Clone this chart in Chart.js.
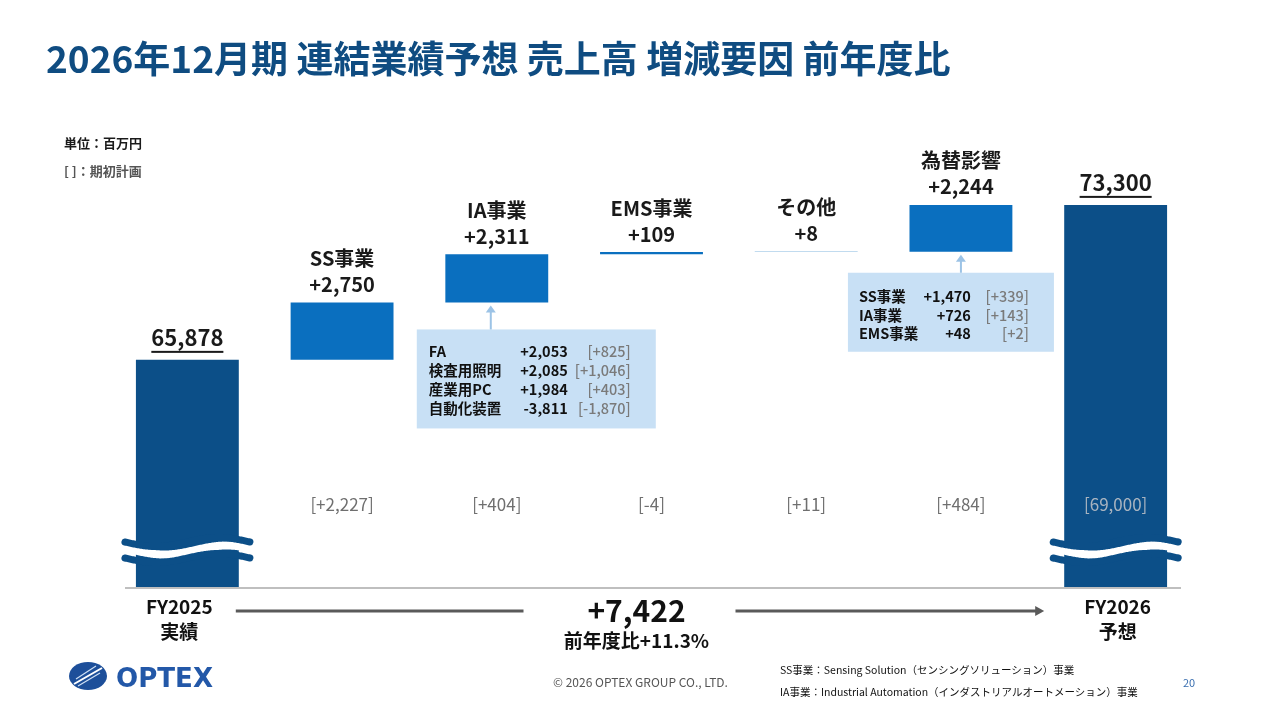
<!DOCTYPE html>
<html lang="ja">
<head>
<meta charset="utf-8">
<script src="https://cdn.jsdelivr.net/npm/chart.js@4.4.1/dist/chart.umd.min.js"></script>
<style>
  html,body{margin:0;padding:0;background:#fff;}
  body{width:1280px;height:720px;position:relative;overflow:hidden;font-family:"Noto Sans CJK JP","Noto Sans",sans-serif;}
  #wrap{position:absolute;left:0;top:0;width:1280px;height:720px;}
  .t{position:absolute;white-space:nowrap;}
  #title{left:46px;top:30px;font-size:37px;font-weight:700;color:#0f4c81;letter-spacing:0px;}
  #unit{left:64px;top:133px;font-size:13px;font-weight:700;color:#1a1a1a;}
  #plan{left:64px;top:161px;font-size:13px;font-weight:700;color:#555;}
  #copy{left:553px;top:673px;font-size:12px;color:#555;}
  #note1{left:780px;top:662px;font-size:10.5px;color:#111;}
  #note2{left:780px;top:684px;font-size:10.5px;color:#111;}
  #page{left:1183px;top:674px;font-size:11px;color:#3a6fb0;}
  #logo{position:absolute;left:66px;top:658px;}
</style>
</head>
<body>
<div id="wrap"><canvas id="c" width="1280" height="720"></canvas></div>
<div class="t" id="title">2026年12月期 連結業績予想 売上高 増減要因 前年度比</div>
<div class="t" id="unit">単位：百万円</div>
<div class="t" id="plan">[ ]：期初計画</div>
<div class="t" id="copy">© 2026 OPTEX GROUP CO., LTD.</div>
<div class="t" id="note1">SS事業：Sensing Solution（センシングソリューション）事業</div>
<div class="t" id="note2">IA事業：Industrial Automation（インダストリアルオートメーション）事業</div>
<div class="t" id="page">20</div>
<svg id="logo" width="160" height="40" viewBox="0 0 160 40">
  <ellipse cx="22" cy="18" rx="19" ry="14" fill="#1d4f9a"/>
  <path d="M8 26 L36 10" stroke="#fff" stroke-width="2"/>
  <path d="M12 28 L34 15" stroke="#cfe0f5" stroke-width="1.2"/>
  <path d="M10 21 L30 8" stroke="#cfe0f5" stroke-width="1.2"/>
  <text x="50" y="29" font-family="DejaVu Sans" font-weight="700" font-size="26" fill="#2358a8" textLength="97" lengthAdjust="spacingAndGlyphs">OPTEX</text>
</svg>
<script>
// ---------- data ----------
const categories = ['FY2025 実績', 'SS事業', 'IA事業', 'EMS事業', 'その他', '為替影響', 'FY2026 予想'];
const startTotal = 65878;            // FY2025 実績
const endTotal = 73300;              // FY2026 予想
const changes = [2750, 2311, 109, 8, 2244];   // SS, IA, EMS, その他, 為替影響
const planChanges = [2227, 404, -4, 11, 484]; // 期初計画
const planTotal = 69000;
const axisMin = 55000;
const axisMax = 80000;

const iaNames = ['FA', '検査用照明', '産業用PC', '自動化装置'];
const iaValues = [2053, 2085, 1984, -3811];
const iaPlan = [825, 1046, 403, -1870];

const fxNames = ['SS事業', 'IA事業', 'EMS事業'];
const fxValues = [1470, 726, 48];
const fxPlan = [339, 143, 2];

// ---------- build ----------
const fmt = v => v.toLocaleString('en-US');
const sgn = v => (v >= 0 ? '+' : '-') + fmt(Math.abs(v));
const ranges = [[axisMin, startTotal]];
let run = startTotal;
changes.forEach(c => { ranges.push([run, run + c]); run += c; });
ranges.push([axisMin, endTotal]);
const NAVY = '#0c4f88', BLUE = '#0a6fbf';
const colors = ranges.map((r, i) => (i === 0 || i === ranges.length - 1) ? NAVY : BLUE);

const FONT = '"Noto Sans CJK JP","Noto Sans",sans-serif';

function wave(ctx, x0, x1, yc, amp, period, phase) {
  ctx.beginPath();
  for (let x = x0; x <= x1; x += 1) {
    const y = yc + amp * Math.sin((x - x0) / period * 2 * Math.PI + phase);
    if (x === x0) ctx.moveTo(x, y); else ctx.lineTo(x, y);
  }
  ctx.stroke();
}

function underlinedText(ctx, txt, x, y) {
  ctx.fillText(txt, x, y);
  const w = ctx.measureText(txt).width;
  ctx.fillRect(x - w / 2, y + 13, w, 2);
}

function callout(ctx, el, left, top, w, h, arrowX, names, vals, plans, nameX, valR, planR, firstY, step) {
  ctx.fillStyle = '#c8e0f5';
  ctx.fillRect(left, top, w, h);
  const barBottom = Math.max(el.y, el.base);
  ctx.strokeStyle = '#9cc3e6';
  ctx.fillStyle = '#9cc3e6';
  ctx.lineWidth = 2;
  ctx.beginPath(); ctx.moveTo(arrowX, top); ctx.lineTo(arrowX, barBottom + 8); ctx.stroke();
  ctx.beginPath(); ctx.moveTo(arrowX - 5, barBottom + 10); ctx.lineTo(arrowX + 5, barBottom + 10); ctx.lineTo(arrowX, barBottom + 3); ctx.closePath(); ctx.fill();
  ctx.textBaseline = 'middle';
  names.forEach((n, i) => {
    const y = top + firstY + i * step;
    ctx.font = '700 14.5px ' + FONT;
    ctx.fillStyle = '#111';
    ctx.textAlign = 'left';
    ctx.fillText(n, left + nameX, y);
    ctx.textAlign = 'right';
    ctx.fillText(sgn(vals[i]), left + valR, y);
    ctx.font = '500 14.5px ' + FONT;
    ctx.fillStyle = '#7a7a7a';
    ctx.fillText('[' + sgn(plans[i]) + ']', left + planR, y);
  });
}

const waterfallPlugin = {
  id: 'waterfall',
  afterDatasetsDraw(chart) {
    const ctx = chart.ctx;
    const area = chart.chartArea;
    const meta = chart.getDatasetMeta(0);
    const els = meta.data;
    const last = els.length - 1;
    ctx.save();

    // axis baseline
    ctx.strokeStyle = '#bfbfbf';
    ctx.lineWidth = 2;
    ctx.beginPath();
    ctx.moveTo(area.left + 15, area.bottom + 1);
    ctx.lineTo(area.right - 12, area.bottom + 1);
    ctx.stroke();

    // axis break waves on total bars
    [0, last].forEach(i => {
      const el = els[i];
      const x0 = el.x - el.width / 2 - 11, x1 = el.x + el.width / 2 + 12;
      const yc = area.bottom - 37;
      ctx.lineCap = 'round';
      ctx.strokeStyle = '#ffffff';
      ctx.lineWidth = 8;
      wave(ctx, x0 + 8, x1 - 8, yc, 4.5, 125, 0);
      ctx.strokeStyle = NAVY;
      ctx.lineWidth = 7;
      wave(ctx, x0, x1, yc - 8, 4.5, 125, 0);
      wave(ctx, x0, x1, yc + 8, 4.5, 125, 0);
    });

    ctx.textAlign = 'center';
    ctx.textBaseline = 'middle';

    // total labels
    ctx.fillStyle = '#1a1a1a';
    ctx.font = '700 22px ' + FONT;
    [[0, startTotal], [last, endTotal]].forEach(([i, v]) => {
      const el = els[i];
      underlinedText(ctx, fmt(v), el.x, Math.min(el.y, el.base) - 22);
    });

    // change labels
    changes.forEach((c, k) => {
      const el = els[k + 1];
      const top = Math.min(el.y, el.base);
      ctx.fillStyle = '#1a1a1a';
      ctx.font = '700 20px ' + FONT;
      ctx.fillText(categories[k + 1], el.x, top - 44);
      ctx.fillText(sgn(c), el.x, top - 18);
    });

    // plan labels
    ctx.font = '400 17px ' + FONT;
    const planY = area.bottom - 82;
    planChanges.forEach((p, k) => {
      ctx.fillStyle = '#6f6f6f';
      ctx.fillText('[' + sgn(p) + ']', els[k + 1].x, planY);
    });
    ctx.fillStyle = '#a9b4c0';
    ctx.fillText('[' + fmt(planTotal) + ']', els[last].x, planY);

    // category labels for totals
    ctx.fillStyle = '#111';
    ctx.font = '700 19px ' + FONT;
    [0, last].forEach(i => {
      const parts = categories[i].split(' ');
      const x = els[i].x + (i === 0 ? -8 : 2);
      ctx.fillText(parts[0], x, area.bottom + 20);
      ctx.fillText(parts[1], x, area.bottom + 45);
    });

    // total change arrow
    const diff = endTotal - startTotal;
    const mid = (els[0].x + els[last].x) / 2 - 15;
    const ay = area.bottom + 24;
    ctx.strokeStyle = '#5a5a5a';
    ctx.fillStyle = '#5a5a5a';
    ctx.lineWidth = 3;
    ctx.lineCap = 'butt';
    ctx.beginPath(); ctx.moveTo(els[0].x + els[0].width / 2 - 3, ay); ctx.lineTo(mid - 113, ay); ctx.stroke();
    const arrEnd = els[last].x - els[last].width / 2 - 20;
    ctx.beginPath(); ctx.moveTo(mid + 99, ay); ctx.lineTo(arrEnd - 6, ay); ctx.stroke();
    ctx.beginPath(); ctx.moveTo(arrEnd, ay); ctx.lineTo(arrEnd - 9, ay - 5); ctx.lineTo(arrEnd - 9, ay + 5); ctx.closePath(); ctx.fill();
    ctx.fillStyle = '#111';
    ctx.font = '700 30px ' + FONT;
    ctx.fillText(sgn(diff), mid, ay);
    ctx.font = '700 19px ' + FONT;
    ctx.fillText('前年度比' + sgn(Math.round(diff / startTotal * 1000) / 10) + '%', mid, ay + 30);

    // callouts
    const ia = els[2];
    callout(ctx, ia, ia.x - 80, Math.max(ia.y, ia.base) + 27, 239, 99, ia.x - 6,
            iaNames, iaValues, iaPlan, 12, 151, 214, 22, 19);
    const fx = els[5];
    callout(ctx, fx, fx.x - 113, Math.max(fx.y, fx.base) + 21, 206, 79, fx.x,
            fxNames, fxValues, fxPlan, 11, 123, 181, 24, 18.5);

    ctx.restore();
  }
};

new Chart(document.getElementById('c'), {
  type: 'bar',
  data: {
    labels: categories,
    datasets: [{
      data: ranges,
      backgroundColor: colors,
      borderWidth: 0,
      barPercentage: 0.665,
      categoryPercentage: 1.0
    }]
  },
  options: {
    responsive: false,
    animation: false,
    events: [],
    layout: { padding: { left: 110, right: 87, top: 65, bottom: 133 } },
    plugins: { legend: { display: false }, tooltip: { enabled: false } },
    scales: {
      x: { display: false, grid: { display: false } },
      y: { display: false, min: axisMin, max: axisMax, grid: { display: false } }
    }
  },
  plugins: [waterfallPlugin]
});
</script>
</body>
</html>
